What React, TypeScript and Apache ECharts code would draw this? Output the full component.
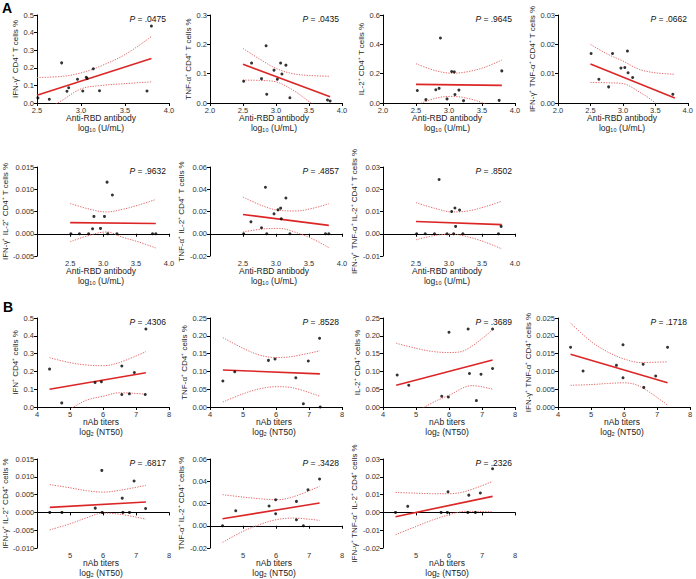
import React, { useEffect, useRef } from "react";
import * as echarts from "echarts";

const FONT = '"Liberation Sans", Arial, Helvetica, sans-serif';

// ---------- texts ----------
const yTitles = [
  "IFN-γ⁺ CD4⁺ T cells %",
  "TNF-α⁺ CD4⁺ T cells %",
  "IL-2⁺ CD4⁺ T cells %",
  "IFN-γ⁺ TNF-α⁺ CD4⁺ T cells %",
  "IFN-γ⁺ IL-2⁺ CD4⁺ T cells %",
  "TNF-α⁺ IL-2⁺ CD4⁺ T cells %",
  "IFN-γ⁺ TNF-α⁺ IL-2⁺ CD4⁺ T cells %",
  "IFN⁺ CD4⁺ cells %",
  "TNF-α⁺ CD4⁺ cells %",
  "IL-2⁺ CD4⁺ cells %",
  "IFN-γ⁺ TNF-α⁺ CD4⁺ cells %",
  "IFN-γ⁺ IL-2⁺ CD4⁺ cells %",
  "TNF-α⁺ IL-2⁺ CD4⁺ cells %",
  "IFN-γ⁺ TNF-α⁺ IL-2⁺ CD4⁺ cells %",
];
const pValues = [".0475", ".0435", ".9645", ".0662", ".9632", ".4857", ".8502", ".4306", ".8528", ".3689", ".1718", ".6817", ".3428", ".2326"];
const xTitleA = ["Anti-RBD antibody", "log₁₀ (U/mL)"];
const xTitleB = ["nAb titers", "log₂ (NT50)"];

// ---------- axes ----------
const xMins = [2.5, 2, 2, 2, 2, 2, 2, 4, 4, 4, 4, 4, 4, 4];
const xMaxs = [4, 4, 4, 4, 4, 4, 4, 8, 8, 8, 8, 8, 8, 8];
const xSteps = [0.5, 0.5, 0.5, 0.5, 0.5, 0.5, 0.5, 1, 1, 1, 1, 1, 1, 1];
const xDecs = [1, 1, 1, 1, 1, 1, 1, 0, 0, 0, 0, 0, 0, 0];
const yMins = [0, 0, 0, 0, -0.005, -0.02, -0.01, 0, 0, 0, 0, -0.01, -0.02, -0.02];
const yMaxs = [0.5, 0.3, 0.6, 0.03, 0.015, 0.06, 0.03, 0.5, 0.25, 0.25, 0.025, 0.015, 0.06, 0.03];
const ySteps = [0.1, 0.1, 0.2, 0.01, 0.005, 0.02, 0.01, 0.1, 0.05, 0.05, 0.005, 0.005, 0.02, 0.01];
const yDecs = [1, 1, 1, 2, 3, 2, 2, 1, 2, 2, 3, 3, 2, 2];

// ---------- data: A (anti-RBD antibody) ----------
const p1Pts = [[2.51, 0.029], [2.64, 0.021], [2.78, 0.228], [2.84, 0.067], [2.86, 0.087], [2.96, 0.135], [3.02, 0.068], [3.06, 0.146], [3.07, 0.139], [3.14, 0.194], [3.21, 0.07], [3.75, 0.068], [3.8, 0.437]];
const p1Fit = [[2.5, 0.044], [3.8, 0.253]];
const p1Up = [[2.5, 0.145], [2.8, 0.152], [3.0, 0.171], [3.2, 0.205], [3.5, 0.275], [3.8, 0.378]];
const p1Lo = [[2.5, -0.06], [2.75, 0.005], [3.0, 0.08], [3.2, 0.098], [3.5, 0.11], [3.8, 0.12]];

const p2Pts = [[2.51, 0.074], [2.63, 0.136], [2.78, 0.083], [2.85, 0.195], [2.86, 0.03], [2.97, 0.112], [3.02, 0.081], [3.07, 0.136], [3.09, 0.099], [3.15, 0.129], [3.21, 0.018], [3.78, 0.01], [3.82, 0.007]];
const p2Fit = [[2.5, 0.132], [3.82, 0.021]];
const p2Up = [[2.5, 0.186], [2.75, 0.15], [3.0, 0.118], [3.25, 0.1], [3.5, 0.094], [3.82, 0.091]];
const p2Lo = [[2.5, 0.078], [2.75, 0.077], [3.0, 0.072], [3.25, 0.045], [3.5, 0.005], [3.82, -0.05]];

const p3Pts = [[2.52, 0.085], [2.65, 0.023], [2.8, 0.09], [2.85, 0.1], [2.87, 0.443], [2.97, 0.028], [3.04, 0.215], [3.08, 0.212], [3.09, 0.058], [3.15, 0.088], [3.22, 0.016], [3.76, 0.018], [3.8, 0.219]];
const p3Fit = [[2.5, 0.127], [3.8, 0.12]];
const p3Up = [[2.5, 0.268], [2.8, 0.22], [3.05, 0.203], [3.3, 0.215], [3.55, 0.245], [3.8, 0.293]];
const p3Lo = [[2.5, -0.015], [2.8, 0.033], [3.05, 0.045], [3.3, 0.03], [3.55, -0.005], [3.8, -0.05]];

const p4Pts = [[2.51, 0.0169], [2.63, 0.0081], [2.78, 0.0055], [2.84, 0.0169], [2.97, 0.0119], [3.03, 0.0121], [3.07, 0.0177], [3.08, 0.0103], [3.15, 0.0087], [3.77, 0.003]];
const p4Fit = [[2.5, 0.0133], [3.8, 0.0017]];
const p4Up = [[2.5, 0.02], [2.75, 0.0168], [3.0, 0.0143], [3.25, 0.0115], [3.5, 0.0103], [3.8, 0.0098]];
const p4Lo = [[2.5, 0.007], [2.75, 0.0069], [3.0, 0.0066], [3.25, 0.0038], [3.5, 0.0], [3.8, -0.0065]];

const p5Pts = [[2.51, 0], [2.64, 0], [2.78, 0], [2.84, 0.0011], [2.86, 0.0039], [2.96, 0.0012], [3.02, 0.0039], [3.06, 0.0116], [3.07, 0], [3.14, 0.0087], [3.21, 0], [3.75, 0], [3.8, 0]];
const p5Fit = [[2.5, 0.0025], [3.8, 0.0023]];
const p5Up = [[2.5, 0.0068], [2.8, 0.0055], [3.05, 0.0049], [3.3, 0.0055], [3.55, 0.0065], [3.8, 0.0077]];
const p5Lo = [[2.5, -0.0018], [2.8, -0.0003], [3.05, 0.0004], [3.3, -0.0008], [3.55, -0.0019], [3.8, -0.0032]];

const p6Pts = [[2.51, 0], [2.62, 0.0107], [2.78, 0.0054], [2.84, 0.0418], [2.86, 0], [2.97, 0.0179], [3.03, 0.0215], [3.07, 0.023], [3.08, 0.0134], [3.15, 0.0322], [3.21, 0], [3.75, 0], [3.8, 0]];
const p6Fit = [[2.5, 0.0173], [3.8, 0.0075]];
const p6Up = [[2.5, 0.033], [2.8, 0.025], [3.05, 0.021], [3.3, 0.0205], [3.55, 0.0228], [3.8, 0.027]];
const p6Lo = [[2.5, 0.0016], [2.8, 0.0043], [3.05, 0.0048], [3.3, 0.0012], [3.55, -0.0045], [3.8, -0.0125]];

const p7Pts = [[2.51, 0], [2.64, 0], [2.78, 0], [2.85, 0.0244], [2.97, 0], [3.04, 0.01], [3.07, 0], [3.09, 0.0116], [3.1, 0.0033], [3.16, 0.0107], [3.21, 0], [3.75, 0], [3.79, 0.0033]];
const p7Fit = [[2.5, 0.0055], [3.8, 0.0041]];
const p7Up = [[2.5, 0.014], [2.8, 0.0113], [3.05, 0.0098], [3.3, 0.0103], [3.55, 0.0122], [3.8, 0.0146]];
const p7Lo = [[2.5, -0.0027], [2.8, -0.0007], [3.05, -0.0002], [3.3, -0.0015], [3.55, -0.0038], [3.8, -0.0068]];

// ---------- data: B (nAb titers) ----------
const p8Pts = [[4.38, 0.213], [4.75, 0.023], [5.76, 0.138], [5.95, 0.142], [6.57, 0.23], [6.57, 0.07], [6.8, 0.074], [6.95, 0.194], [7.28, 0.07], [7.3, 0.438]];
const p8Fit = [[4.38, 0.1], [7.3, 0.192]];
const p8Up = [[4.38, 0.277], [5.0, 0.249], [5.5, 0.236], [6.0, 0.232], [6.5, 0.25], [7.3, 0.311]];
const p8Lo = [[4.38, -0.08], [5.0, -0.012], [5.5, 0.038], [6.0, 0.06], [6.5, 0.08], [7.3, 0.072]];

const p9Pts = [[4.39, 0.073], [4.75, 0.099], [5.77, 0.131], [5.97, 0.135], [6.6, 0.082], [6.83, 0.009], [6.98, 0.129], [7.32, 0.193], [7.34, 0.0]];
const p9Fit = [[4.39, 0.104], [7.33, 0.093]];
const p9Up = [[4.39, 0.195], [5.0, 0.165], [5.5, 0.146], [6.0, 0.139], [6.5, 0.142], [7.33, 0.158]];
const p9Lo = [[4.39, 0.014], [5.0, 0.037], [5.5, 0.051], [6.0, 0.057], [6.5, 0.054], [7.33, 0.03]];

const p10Pts = [[4.43, 0.09], [4.78, 0.061], [5.78, 0.03], [5.98, 0.028], [6.0, 0.21], [6.58, 0.219], [6.62, 0.094], [6.83, 0.018], [6.97, 0.092], [7.32, 0.108], [7.32, 0.219]];
const p10Fit = [[4.4, 0.061], [7.32, 0.132]];
const p10Up = [[4.4, 0.179], [5.0, 0.165], [5.5, 0.156], [6.0, 0.153], [6.5, 0.16], [7.32, 0.217]];
const p10Lo = [[4.4, -0.058], [5.0, -0.015], [5.5, 0.012], [6.0, 0.033], [6.7, 0.06], [7.32, 0.05]];

const p11Pts = [[4.38, 0.0168], [4.76, 0.0101], [5.77, 0.0117], [5.97, 0.0175], [5.97, 0.0082], [6.58, 0.012], [6.6, 0.0055], [6.96, 0.0087], [7.32, 0.0168]];
const p11Fit = [[4.38, 0.0148], [7.32, 0.0068]];
const p11Up = [[4.38, 0.0236], [5.0, 0.0184], [5.5, 0.0155], [6.0, 0.0135], [6.5, 0.0125], [7.32, 0.0127]];
const p11Lo = [[4.38, 0.0061], [5.0, 0.0063], [5.5, 0.0066], [6.0, 0.0068], [6.5, 0.0057], [7.32, 0.0005]];

const p12Pts = [[4.38, 0], [4.75, 0], [5.76, 0.0012], [5.96, 0.0118], [5.97, 0], [6.58, 0.004], [6.6, 0], [6.8, 0], [6.94, 0.0088], [7.29, 0.0011]];
const p12Fit = [[4.38, 0.0014], [7.3, 0.0029]];
const p12Up = [[4.38, 0.0078], [5.0, 0.0069], [5.5, 0.0061], [6.0, 0.0057], [6.5, 0.0062], [7.3, 0.0076]];
const p12Lo = [[4.38, -0.0049], [5.0, -0.0032], [5.5, -0.0015], [6.0, -0.0002], [6.5, -0.0005], [7.3, -0.0019]];

const p13Pts = [[4.38, 0], [4.78, 0.0135], [5.79, 0.0177], [5.99, 0.0234], [5.99, 0.0108], [6.62, 0.0219], [6.62, 0.0054], [6.83, 0], [6.97, 0.0324], [7.32, 0.042]];
const p13Fit = [[4.38, 0.0063], [7.32, 0.0204]];
const p13Up = [[4.38, 0.0279], [5.0, 0.0258], [5.5, 0.0243], [6.0, 0.0234], [6.5, 0.0258], [7.32, 0.0354]];
const p13Lo = [[4.38, -0.015], [5.0, -0.005], [5.5, 0.001], [6.0, 0.0054], [6.5, 0.0069], [7.32, 0.0048]];

const p14Pts = [[4.38, 0], [4.75, 0.0034], [5.76, 0], [5.95, 0], [5.97, 0.0116], [6.57, 0], [6.6, 0.0097], [6.8, 0], [6.95, 0.0109], [7.32, 0.0245]];
const p14Fit = [[4.38, -0.0024], [7.32, 0.009]];
const p14Up = [[4.38, 0.0112], [5.0, 0.0108], [5.5, 0.0105], [6.0, 0.0105], [6.5, 0.0118], [7.32, 0.0174]];
const p14Lo = [[4.38, -0.0125], [5.0, -0.0079], [5.5, -0.0043], [6.0, -0.0013], [6.5, 0.0006], [7.32, 0.0004]];

const allPts = [p1Pts, p2Pts, p3Pts, p4Pts, p5Pts, p6Pts, p7Pts, p8Pts, p9Pts, p10Pts, p11Pts, p12Pts, p13Pts, p14Pts];
const allFit = [p1Fit, p2Fit, p3Fit, p4Fit, p5Fit, p6Fit, p7Fit, p8Fit, p9Fit, p10Fit, p11Fit, p12Fit, p13Fit, p14Fit];
const allUp = [p1Up, p2Up, p3Up, p4Up, p5Up, p6Up, p7Up, p8Up, p9Up, p10Up, p11Up, p12Up, p13Up, p14Up];
const allLo = [p1Lo, p2Lo, p3Lo, p4Lo, p5Lo, p6Lo, p7Lo, p8Lo, p9Lo, p10Lo, p11Lo, p12Lo, p13Lo, p14Lo];

// ---------- layout ----------
const colLeft = [37, 210, 383, 558];
const rowTop = [15, 167, 318, 459];
const rowH = [88, 89, 89, 89];
const GW = 132;
const panelRow = [0, 0, 0, 0, 1, 1, 1, 2, 2, 2, 2, 3, 3, 3];
const panelCol = [0, 1, 2, 3, 0, 1, 2, 0, 1, 2, 3, 0, 1, 2];

const TICK_FS = 7.5;
const charW = (c: string) => (c === "." ? 0.278 : c === "-" ? 0.333 : 0.556);
const textW = (s: string, fs: number) => s.split("").reduce((a, c) => a + charW(c), 0) * fs;

function fmtNum(v: any, d: number): string {
  const n = Number(v);
  if (!isFinite(n)) return String(v);
  const s = n.toFixed(d);
  return /^-0\.?0*$/.test(s) ? s.slice(1) : s;
}

function buildOption() {
  const grid: any[] = [];
  const xAxis: any[] = [];
  const yAxis: any[] = [];
  const series: any[] = [];
  const graphic: any[] = [];

  for (let i = 0; i < 14; i++) {
    const r = panelRow[i];
    const c = panelCol[i];
    const left = colLeft[c];
    const top = rowTop[r];
    const h = rowH[r];
    grid.push({ left, top, width: GW, height: h, containLabel: false });
    const negY = yMins[i] < 0;
    const xd = xDecs[i];
    const yd = yDecs[i];

    xAxis.push({
      gridIndex: i,
      type: "value",
      min: xMins[i],
      max: xMaxs[i],
      interval: xSteps[i],
      axisLine: { onZero: true, lineStyle: { color: "#000", width: 1 } },
      axisTick: { show: true, length: 3, lineStyle: { color: "#000", width: 1 } },
      axisLabel: {
        show: true,
        fontSize: TICK_FS,
        fontFamily: FONT,
        color: "#333",
        margin: 3,
        showMinLabel: !negY,
        formatter: (v: any) => fmtNum(v, xd),
      },
      splitLine: { show: false },
    });

    let maxW = 0;
    for (let k = 0; ; k++) {
      const v = yMins[i] + k * ySteps[i];
      if (v > yMaxs[i] + ySteps[i] * 0.01) break;
      maxW = Math.max(maxW, textW(fmtNum(v, yd), TICK_FS));
    }

    yAxis.push({
      gridIndex: i,
      type: "value",
      min: yMins[i],
      max: yMaxs[i],
      interval: ySteps[i],
      name: yTitles[i],
      nameLocation: "middle",
      nameRotate: 90,
      nameGap: 3 + maxW + 4,
      nameTextStyle: { fontSize: 8, fontFamily: FONT, color: "#222" },
      axisLine: { show: true, onZero: false, lineStyle: { color: "#000", width: 1 } },
      axisTick: { show: true, length: 3, lineStyle: { color: "#000", width: 1 } },
      axisLabel: {
        show: true,
        fontSize: TICK_FS,
        fontFamily: FONT,
        color: "#333",
        margin: 3,
        formatter: (v: any) => fmtNum(v, yd),
      },
      splitLine: { show: false },
    });

    series.push({
      type: "line",
      xAxisIndex: i,
      yAxisIndex: i,
      data: allUp[i],
      smooth: 0.35,
      symbol: "none",
      silent: true,
      lineStyle: { color: "#e66a6a", width: 1, type: [1.3, 1.3] },
      z: 2,
    });
    series.push({
      type: "line",
      xAxisIndex: i,
      yAxisIndex: i,
      data: allLo[i],
      smooth: 0.35,
      symbol: "none",
      silent: true,
      lineStyle: { color: "#e66a6a", width: 1, type: [1.3, 1.3] },
      z: 2,
    });
    series.push({
      type: "line",
      xAxisIndex: i,
      yAxisIndex: i,
      data: allFit[i],
      symbol: "none",
      silent: true,
      lineStyle: { color: "#dc2626", width: 1.6 },
      z: 3,
    });
    series.push({
      type: "scatter",
      xAxisIndex: i,
      yAxisIndex: i,
      data: allPts[i],
      symbol: "circle",
      symbolSize: 3,
      itemStyle: { color: "#000" },
      silent: true,
      z: 4,
    });

    graphic.push({
      type: "text",
      x: left + GW - 3,
      y: top + 4,
      style: {
        text: "{i|P} = " + pValues[i],
        rich: { i: { fontStyle: "italic", fontSize: 8.5, fontFamily: FONT, fill: "#111" } },
        fontSize: 8.5,
        fontFamily: FONT,
        fill: "#111",
        align: "right",
        verticalAlign: "middle",
      },
    });

    const titles = i < 7 ? xTitleA : xTitleB;
    const bottom = top + h;
    const cx = left + GW / 2 - 2;
    graphic.push({
      type: "text",
      x: cx,
      y: bottom + 15,
      style: { text: titles[0], fontSize: 8.5, fontFamily: FONT, fill: "#222", align: "center", verticalAlign: "middle" },
    });
    graphic.push({
      type: "text",
      x: cx,
      y: bottom + 24.5,
      style: { text: titles[1], fontSize: 8.5, fontFamily: FONT, fill: "#222", align: "center", verticalAlign: "middle" },
    });
  }

  graphic.push({
    type: "text",
    x: 2,
    y: 1,
    style: { text: "A", fontSize: 14, fontWeight: "bold", fontFamily: FONT, fill: "#000" },
  });
  graphic.push({
    type: "text",
    x: 3,
    y: 300,
    style: { text: "B", fontSize: 14, fontWeight: "bold", fontFamily: FONT, fill: "#000" },
  });

  return {
    animation: false,
    backgroundColor: "#fff",
    textStyle: { fontFamily: FONT },
    grid,
    xAxis,
    yAxis,
    series,
    graphic,
  };
}

export default function App() {
  const ref = useRef<HTMLDivElement>(null);
  useEffect(() => {
    const chart = echarts.init(ref.current!, null, { renderer: "svg" });
    chart.setOption(buildOption());
    return () => chart.dispose();
  }, []);
  return <div ref={ref} style={{ position: "fixed", left: 0, top: 0, width: 696, height: 579 }} />;
}
